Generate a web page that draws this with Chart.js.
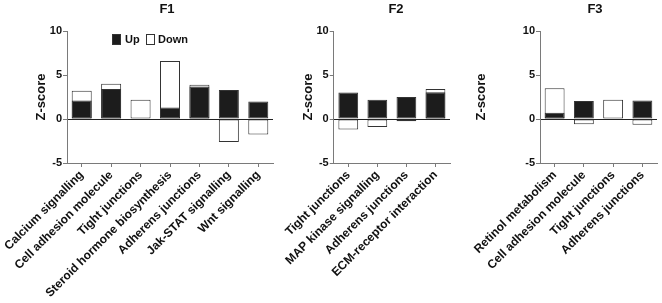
<!DOCTYPE html>
<html>
<head>
<meta charset="utf-8">
<script src="https://cdn.jsdelivr.net/npm/chart.js@4/dist/chart.umd.min.js"></script>
<style>
  html, body { margin: 0; padding: 0; background: #fff; }
  body { width: 662px; height: 303px; position: relative; overflow: hidden; }
  canvas { position: absolute; top: 0; }
</style>
</head>
<body>
<canvas id="c1" width="280" height="303" style="left:0px"></canvas>
<canvas id="c2" width="175" height="303" style="left:280px"></canvas>
<canvas id="c3" width="197" height="303" style="left:465px"></canvas>
<script>
// ---- data ----
const yTickValues = [-5, 0, 5, 10];
const seriesNames = ['Up', 'Down'];
const panelTitles = ['F1', 'F2', 'F3'];

const f1Categories = ['Calcium signalling', 'Cell adhesion molecule', 'Tight junctions', 'Steroid hormone biosynthesis', 'Adherens junctions', 'Jak-STAT signalling', 'Wnt signalling'];
const f1Up   = [2.1, 3.4, 0, 1.3, 3.7, 3.3, 2.0];
const f1Down = [3.2, 4.0, 2.2, 6.6, 3.9, -2.6, -1.75];

const f2Categories = ['Tight junctions', 'MAP kinase signalling', 'Adherens junctions', 'ECM-receptor interaction'];
const f2Up   = [3.0, 2.2, 2.5, 3.05];
const f2Down = [-1.2, -0.9, -0.25, 3.4];

const f3Categories = ['Retinol metabolism', 'Cell adhesion molecule', 'Tight junctions', 'Adherens junctions'];
const f3Up   = [0.7, 2.05, 0, 2.1];
const f3Down = [3.5, -0.6, 2.2, -0.65];

// ---- styling ----
const FONT = '"Liberation Sans", Arial, sans-serif';
const AXIS = '#7a7a7a';
const UPFILL = '#1c1c1c';
const EDGE = '#333333';

const titlePlugin = {
  id: 'panelTitle',
  afterDraw(chart, args, opts) {
    const ctx = chart.ctx;
    ctx.save();
    ctx.font = 'bold 13px ' + FONT;
    ctx.fillStyle = '#111';
    ctx.textAlign = 'center';
    ctx.textBaseline = 'middle';
    ctx.fillText(opts.text, opts.x, 9);
    if (opts.legend) {
      const items = [
        { name: seriesNames[0], fill: UPFILL, bx: 112, tx: 125 },
        { name: seriesNames[1], fill: '#ffffff', bx: 146, tx: 158 }
      ];
      ctx.font = 'bold 11px ' + FONT;
      ctx.textAlign = 'left';
      items.forEach(it => {
        ctx.fillStyle = it.fill;
        ctx.fillRect(it.bx + 0.5, 34.5, 8, 10);
        ctx.strokeStyle = EDGE;
        ctx.lineWidth = 1;
        ctx.strokeRect(it.bx + 0.5, 34.5, 8, 10);
        ctx.fillStyle = '#111';
        ctx.fillText(it.name, it.tx, 40);
      });
    }
    ctx.restore();
  }
};

function makeChart(id, cats, up, down, title, yWidth, padRight, titlePad, titleX, legend) {
  return new Chart(document.getElementById(id), {
    type: 'bar',
    data: {
      labels: cats,
      datasets: [
        { label: seriesNames[0], data: up, backgroundColor: UPFILL, borderColor: EDGE, borderWidth: 1, borderSkipped: false },
        { label: seriesNames[1], data: down, backgroundColor: '#ffffff', borderColor: EDGE, borderWidth: 1, borderSkipped: false }
      ]
    },
    plugins: [titlePlugin],
    options: {
      responsive: false,
      animation: false,
      devicePixelRatio: 1,
      layout: { padding: { top: 31, left: 0, right: padRight, bottom: 0 } },
      datasets: { bar: { categoryPercentage: 1.0, barPercentage: 0.68 } },
      plugins: {
        legend: { display: false },
        tooltip: { enabled: false },
        title: { display: false },
        panelTitle: { text: title, x: titleX, legend: legend }
      },
      scales: {
        x: {
          stacked: true,
          offset: true,
          grid: { display: true, drawOnChartArea: false, drawTicks: true, tickLength: 4, tickColor: AXIS, offset: false },
          border: { display: true, color: AXIS, width: 1 },
          ticks: {
            autoSkip: false, maxRotation: 45, minRotation: 45, padding: 1,
            color: '#111', font: { family: FONT, size: 12, weight: 'bold' }
          },
          afterFit(scale) { scale.height = 140; }
        },
        y: {
          stacked: false,
          min: yTickValues[0],
          max: yTickValues[yTickValues.length - 1],
          afterBuildTicks(scale) { scale.ticks = yTickValues.map(v => ({ value: v })); },
          grid: {
            display: true, drawOnChartArea: true, drawTicks: true, tickLength: 4,
            color: ctx => (ctx.tick && ctx.tick.value === 0) ? '#222' : 'rgba(0,0,0,0)',
            tickColor: AXIS
          },
          border: { display: true, color: AXIS, width: 1 },
          ticks: { padding: 1, color: '#111', font: { family: FONT, size: 11, weight: 'bold' } },
          title: {
            display: true, text: 'Z-score', color: '#111',
            font: { family: FONT, size: 13, weight: 'bold' },
            padding: { top: titlePad, bottom: 0 }
          },
          afterFit(scale) { scale.width = yWidth; }
        }
      }
    }
  });
}

makeChart('c1', f1Categories, f1Up, f1Down, panelTitles[0], 67, 7, 34, 167, true);
makeChart('c2', f2Categories, f2Up, f2Down, panelTitles[1], 53, 5, 20, 116, false);
makeChart('c3', f3Categories, f3Up, f3Down, panelTitles[2], 75, 5, 9, 130, false);
</script>
</body>
</html>
